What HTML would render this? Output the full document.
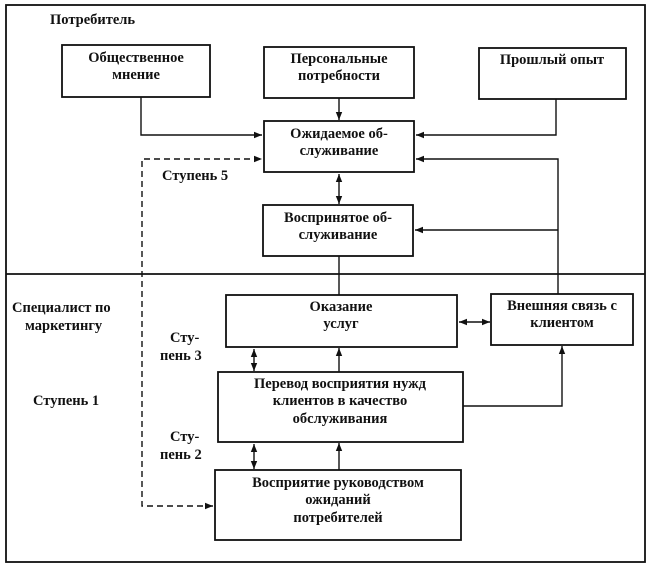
<!DOCTYPE html>
<html><head><meta charset="utf-8"><style>
html,body{margin:0;padding:0;background:#fff;}
svg{display:block;}
text{font-family:"Liberation Serif",serif;font-weight:bold;font-size:14.5px;fill:#111;}
</style></head><body>
<svg width="653" height="567" viewBox="0 0 653 567" xmlns="http://www.w3.org/2000/svg">
<defs>
<marker id="a" viewBox="0 0 10 10" refX="10" refY="5" markerWidth="8" markerHeight="8" orient="auto-start-reverse" markerUnits="userSpaceOnUse"><path d="M0,1 L10,5 L0,9 Z" fill="#111"/></marker>
</defs>
<g fill="none" stroke="#111" stroke-width="1.8">
<rect x="6" y="5" width="639" height="557"/>
<line x1="6" y1="274" x2="645" y2="274"/>
<rect x="62" y="45" width="148" height="52"/>
<rect x="264" y="47" width="150" height="51"/>
<rect x="479" y="48" width="147" height="51"/>
<rect x="264" y="121" width="150" height="51"/>
<rect x="263" y="205" width="150" height="51"/>
<rect x="226" y="295" width="231" height="52"/>
<rect x="491" y="294" width="142" height="51"/>
<rect x="218" y="372" width="245" height="70"/>
<rect x="215" y="470" width="246" height="70"/>
</g>
<g fill="none" stroke="#111" stroke-width="1.4">
<polyline points="141,97 141,135 262,135" marker-end="url(#a)"/>
<line x1="339" y1="98" x2="339" y2="120" marker-end="url(#a)"/>
<polyline points="556,99 556,135 416,135" marker-end="url(#a)"/>
<polyline points="558,294 558,159 416,159" marker-end="url(#a)"/>
<line x1="558" y1="230" x2="415" y2="230" marker-end="url(#a)"/>
<line x1="339" y1="174" x2="339" y2="204" marker-start="url(#a)" marker-end="url(#a)"/>
<line x1="339" y1="256" x2="339" y2="295"/>
<line x1="459" y1="322" x2="490" y2="322" marker-start="url(#a)" marker-end="url(#a)"/>
<line x1="254" y1="349" x2="254" y2="371" marker-start="url(#a)" marker-end="url(#a)"/>
<line x1="339" y1="372" x2="339" y2="348" marker-end="url(#a)"/>
<line x1="254" y1="444" x2="254" y2="469" marker-start="url(#a)" marker-end="url(#a)"/>
<line x1="339" y1="470" x2="339" y2="443" marker-end="url(#a)"/>
<polyline points="463,406 562,406 562,346" marker-end="url(#a)"/>
<polyline points="213,506 142,506 142,159 262,159" stroke-dasharray="6,4" marker-end="url(#a)" marker-start="url(#a)"/>
</g>
<text x="50" y="24">Потребитель</text>
<text x="136" y="62" text-anchor="middle">Общественное</text>
<text x="136" y="79" text-anchor="middle">мнение</text>
<text x="339" y="63" text-anchor="middle">Персональные</text>
<text x="339" y="80" text-anchor="middle">потребности</text>
<text x="552" y="64" text-anchor="middle">Прошлый опыт</text>
<text x="339" y="138" text-anchor="middle">Ожидаемое об-</text>
<text x="339" y="155" text-anchor="middle">служивание</text>
<text x="162" y="180">Ступень 5</text>
<text x="338" y="222" text-anchor="middle">Воспринятое об-</text>
<text x="338" y="239" text-anchor="middle">служивание</text>
<text x="12" y="312">Специалист по</text>
<text x="25" y="330">маркетингу</text>
<text x="341" y="311" text-anchor="middle">Оказание</text>
<text x="341" y="328" text-anchor="middle">услуг</text>
<text x="562" y="310" text-anchor="middle">Внешняя связь с</text>
<text x="562" y="327" text-anchor="middle">клиентом</text>
<text x="170" y="342">Сту-</text>
<text x="160" y="360">пень 3</text>
<text x="340" y="388" text-anchor="middle">Перевод восприятия нужд</text>
<text x="340" y="405" text-anchor="middle">клиентов в качество</text>
<text x="340" y="423" text-anchor="middle">обслуживания</text>
<text x="33" y="405">Ступень 1</text>
<text x="170" y="441">Сту-</text>
<text x="160" y="459">пень 2</text>
<text x="338" y="487" text-anchor="middle">Восприятие руководством</text>
<text x="338" y="504" text-anchor="middle">ожиданий</text>
<text x="338" y="522" text-anchor="middle">потребителей</text>
</svg>
</body></html>
